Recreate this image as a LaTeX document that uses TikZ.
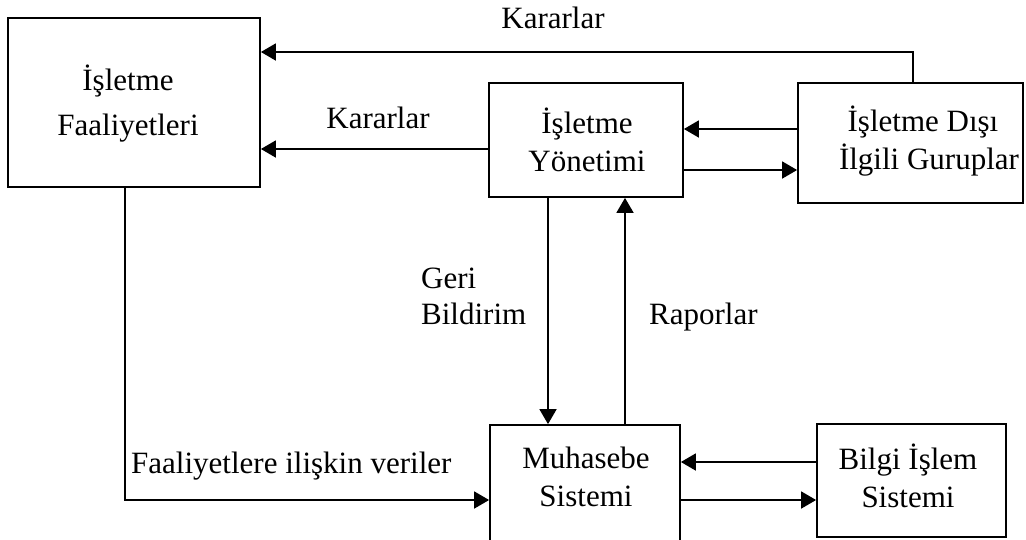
\documentclass[tikz,border=0pt]{standalone}
\usepackage{fontspec}
\setmainfont{Liberation Serif}
\usetikzlibrary{arrows.meta}
\begin{document}
\begin{tikzpicture}[x=1pt,y=-1pt,
  box/.style={draw, line width=1.8pt, rectangle, inner sep=0pt},
  txt/.style={inner sep=0pt, align=center, font=\fontsize{31}{38}\selectfont},
  lbl/.style={inner sep=0pt, align=left, font=\fontsize{31}{36}\selectfont},
  flow/.style={line width=1.8pt, -{Triangle[length=15pt,width=17pt]}}]
\clip (0,0) rectangle (1026,539);

% boxes
\node[box, minimum width=252pt, minimum height=169pt] (act)  at (134,102.5) {};
\node[box, minimum width=194pt, minimum height=114pt] (mgmt) at (586,140) {};
\node[box, minimum width=225pt, minimum height=120pt] (ext)  at (910.5,143) {};
\node[box, minimum width=190pt, minimum height=140pt] (acc)  at (585,495) {};
\node[box, minimum width=189pt, minimum height=113pt] (it)   at (911.5,480.5) {};

% box texts
\node[txt, font=\fontsize{31}{45}\selectfont] (act-t) at (128,104) {İşletme\\Faaliyetleri};
\node[txt] (mgmt-t) at (587,139.5) {İşletme\\Yönetimi};
\node[txt] (ext-t)  at (923,141) {İşletme Dışı\\\hspace*{12pt}İlgili Guruplar};
\node[txt] (acc-t)  at (586,477) {Muhasebe\\Sistemi};
\node[txt] (it-t)   at (908,476) {Bilgi İşlem\\Sistemi};

% connectors
\draw[flow] ([xshift=2.5pt]ext.north) |- ([yshift=50.5pt]act.east);
\draw[flow] (mgmt.west |- 0,149) -- (act.east |- 0,149);
\draw[flow] (ext.west |- 0,129) -- (mgmt.east |- 0,129);
\draw[flow] (mgmt.east |- 0,170) -- (ext.west |- 0,170);
\draw[flow] (mgmt.south -| 548,0) -- (acc.north -| 548,0);
\draw[flow] (acc.north -| 625,0) -- (mgmt.south -| 625,0);
\draw[flow] (act.south -| 125,0) |- (acc.west |- 0,500);
\draw[flow] (it.west |- 0,462) -- (acc.east |- 0,462);
\draw[flow] (acc.east |- 0,500) -- (it.west |- 0,500);

% connector labels
\node[lbl, anchor=base] (dec-top) at (553,28) {Kararlar};
\node[lbl, anchor=base] (dec-mid) at (378,128) {Kararlar};
\node[lbl, anchor=west] (fb) at (421,296) {Geri\\Bildirim};
\node[lbl, anchor=base west] (rep) at (649,324) {Raporlar};
\node[lbl, anchor=base west] (data) at (131,473) {Faaliyetlere ilişkin veriler};
\end{tikzpicture}
\end{document}
